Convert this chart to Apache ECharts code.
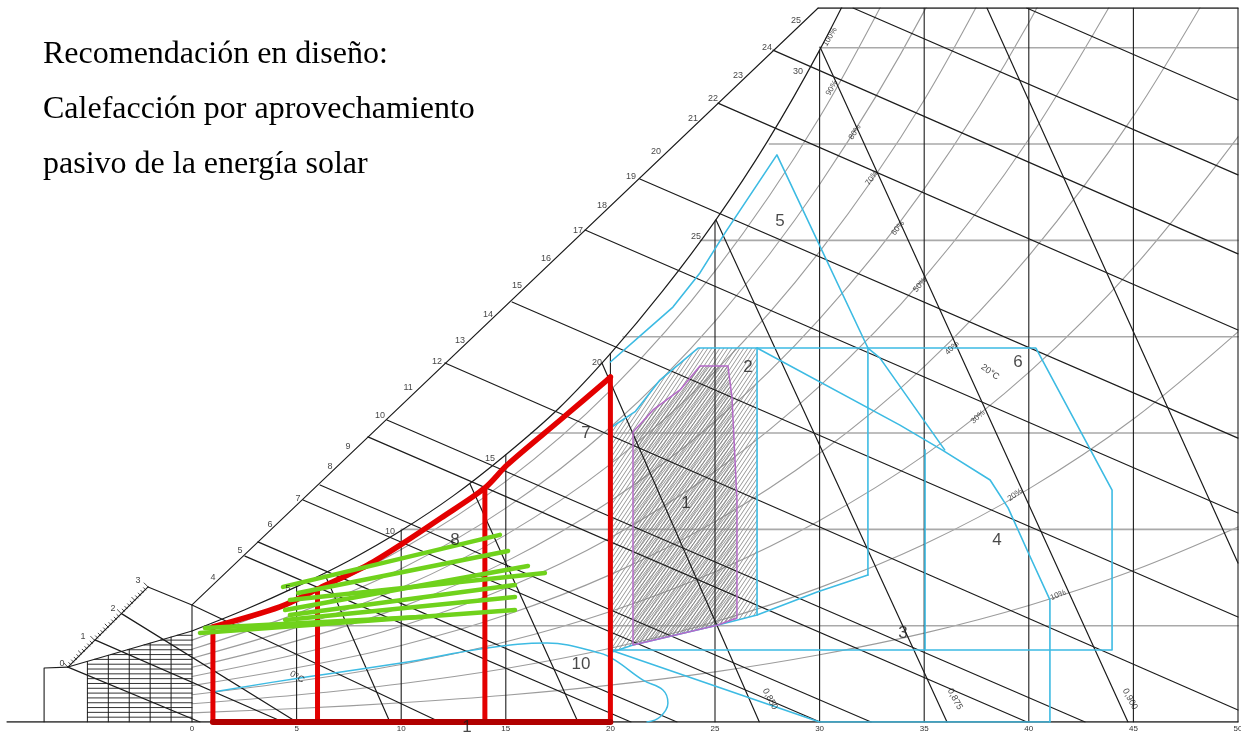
<!DOCTYPE html>
<html>
<head>
<meta charset="utf-8">
<script src="https://cdn.jsdelivr.net/npm/echarts@6/dist/echarts.min.js"></script>
<style>
html,body{margin:0;padding:0;background:#fff}
#chart{width:1241px;height:733px}
</style>
</head>
<body>
<div id="chart"></div>
<script>
// ---- axis ticks (dry-bulb temperature, °C) ----
const tempTicks = [0, 5, 10, 15, 20, 25, 30, 35, 40, 45, 50];

// ---- saturation curve (humidity ratio, g/kg) ----
const satCurve = [[0,3.78],[2.5,4.65],[5,5.62],[7.5,6.7],[10,7.95],[12.5,9.4],[15,11.1],[17.5,13.0],[20,15.3],[22.5,17.9],[25,20.8],[27.5,24.1],[30,27.9],[32.5,32.2]];

// ---- relative humidity curves, values at 0,5,...,50 °C ----
const rhTemps = [0, 5, 10, 15, 20, 25, 30, 35, 40, 45, 50];
const rh90 = [3.40, 5.06, 7.16, 9.99, 13.77, 18.72, 25.11, 33.21];
const rh80 = [3.02, 4.50, 6.36, 8.88, 12.24, 16.64, 22.32, 29.52, 38.72];
const rh70 = [2.65, 3.93, 5.57, 7.77, 10.71, 14.56, 19.53, 25.83, 33.88];
const rh60 = [2.27, 3.37, 4.77, 6.66, 9.18, 12.48, 16.74, 22.14, 29.04, 37.74];
const rh50 = [1.89, 2.81, 3.98, 5.55, 7.65, 10.40, 13.95, 18.45, 24.20, 31.45];
const rh40 = [1.51, 2.25, 3.18, 4.44, 6.12, 8.32, 11.16, 14.76, 19.36, 25.16, 32.40];
const rh30 = [1.13, 1.69, 2.39, 3.33, 4.59, 6.24, 8.37, 11.07, 14.52, 18.87, 24.30];
const rh20 = [0.76, 1.12, 1.59, 2.22, 3.06, 4.16, 5.58, 7.38, 9.68, 12.58, 16.20];
const rh10 = [0.38, 0.56, 0.80, 1.11, 1.53, 2.08, 2.79, 3.69, 4.84, 6.29, 8.10];

// ---- constant humidity-ratio lines (g/kg) and the temperature where each leaves the saturation curve ----
const humidityLevels = [4, 8, 12, 16, 20, 24, 28];
const humidityStarts = [0.6, 10.0, 16.2, 20.6, 24.3, 27.6, 30.0];
const topW = 29.65;

// ---- vertical dry-bulb lines: [T, top] ----
const dryBulbLines = [[5,5.62],[10,7.95],[15,11.1],[20,15.3],[25,20.8],[30,27.9],[35,topW],[40,topW],[45,topW],[50,topW]];

// ---- wet-bulb / enthalpy lines: [T1,w1,T2,w2] ----
const wetBulbLines = [
  [31.6,29.65,50,22.72],[39.9,29.65,50,25.83],[27.77,27.9,50,19.44],[25.14,25.7,50,16.28],
  [21.41,22.55,50,11.79],[18.79,20.43,50,8.68],[15.30,17.44,50,4.36],[12.09,14.91,50,0.50],
  [9.32,12.54,42.69,0],[8.41,11.84,39.91,0],[6.12,9.84,32.46,0],[5.31,9.22,30.02,0],
  [3.15,7.48,23.18,0],[2.53,6.89,20.98,0],[0,4.86,11.85,0],
  [-3.35,4.49,5.0,0],[-4.64,3.41,4.35,0],[-5.93,2.28,0.38,0]
];

// ---- specific volume lines (m³/kg) ----
const volumeLines = [
  [38.0,29.65,50,6.60],[30.02,28.03,44.74,0],[25.05,20.85,36.09,0],
  [19.6,14.9,27.12,0],[13.29,9.88,18.45,0],[6.36,6.1,9.46,0]
];
const volumeLabels = [[27.63,0.95,'0,850'],[36.47,0.95,'0,875'],[44.84,0.95,'0,900']];

// ---- outer wet-bulb scale ----
const smallScale = [[-5.93,2.28],[-2.10,5.61]];
const mainScale = [[0,4.86],[29.93,29.65]];
const scaleLabels = [
  [-6.21,2.41,'0'],[-5.21,3.57,'1'],[-3.78,4.73,'2'],[-2.58,5.86,'3'],
  [1.00,6.02,'4'],[2.29,7.14,'5'],[3.73,8.22,'6'],[5.07,9.30,'7'],[6.60,10.59,'8'],
  [7.46,11.42,'9'],[8.99,12.71,'10'],[10.33,13.87,'11'],[11.71,14.95,'12'],[12.81,15.86,'13'],
  [14.15,16.94,'14'],[15.54,18.11,'15'],[16.92,19.23,'16'],[18.45,20.43,'17'],[19.60,21.43,'18'],
  [20.98,22.67,'19'],[22.18,23.67,'20'],[23.95,25.08,'21'],[24.90,25.91,'22'],[26.10,26.83,'23'],
  [27.49,27.99,'24'],[28.87,29.15,'25']
];
const satLabels = [[4.59,5.56,'5'],[9.46,7.89,'10'],[14.24,10.96,'15'],[19.36,14.91,'20'],[24.09,20.18,'25'],[28.97,27.03,'30']];
const rhLabels = [
  [30.5,28.45,'100%',60],[30.59,26.33,'90%',60],[31.69,24.5,'80%',58],[32.5,22.59,'70%',55],
  [33.75,20.51,'60%',52],[34.8,18.15,'50%',50],[36.33,15.53,'40%',45],[37.57,12.67,'30%',42],
  [39.34,9.43,'20%',35],[41.4,5.27,'10%',22]
];

// ---- frost region below 0 °C ----
const frostTop = [[-5.93,2.28],[0,3.78]];
const frostColumns = [-5, -4, -3, -2, -1];
const frostRows = [0.2,0.4,0.6,0.8,1.0,1.2,1.4,1.6,1.8,2.0,2.2,2.4,2.6,2.8,3.0,3.2,3.4,3.6];
const leftFrame = [[-7.07,0],[-7.07,2.24],[-5.93,2.28]];

// ---- bioclimatic zones ----
const comfortZone = [[20.12,2.92],[20.12,12.24],[21.2,12.9],[22.37,14.2],[24.19,15.53],[27.01,15.53],[27.01,4.44],[25.1,4.02],[21.08,3.20],[20.12,2.92]];
const comfortCore = [[21.08,3.20],[21.08,12.04],[22.04,12.96],[23.33,13.79],[24.28,14.78],[25.62,14.78],[25.81,13.50],[26.05,9.22],[26.05,4.32],[25.1,4.02],[21.08,3.20]];
const zoneVentilation = [[20.0,14.95],[21.75,16.28],[22.99,17.23],[24.28,18.65],[25.48,20.31],[27.96,23.55],[32.31,15.53]];
const zoneEvaporative = [[20.05,12.24],[21.2,12.9],[22.37,14.2],[24.19,15.53],[40.34,15.53],[43.98,9.63],[43.98,2.99],[20.05,2.99],[20.05,12.24]];
const zonePermissibleLeft = [[27.01,15.53],[27.01,4.44]];
const zonePermissibleRight = [[32.31,15.53],[32.31,6.10]];
const zoneLowHumidity = [[20.12,2.92],[21.08,3.20],[25.1,4.02],[27.01,4.44],[29.88,5.40],[32.31,6.10]];
const zoneMassA = [[27.01,15.53],[33.84,12.33],[35.85,11.30],[38.15,10.05],[39.01,8.89],[39.96,7.06],[41.01,5.07],[41.01,0]];
const zoneMassB = [[32.31,15.53],[32.88,15.12],[35.98,11.30]];
const zoneMassEdge = [[35.04,11.30],[35.04,2.99]];
const zoneDryBottom = [[20.0,2.99],[30.0,0],[41.01,0]];
const zoneHumidify = [[1.0,1.25],[5.16,1.83],[10.0,2.45],[14.1,3.07],[16.97,3.28],[19.5,2.86],[20.22,2.57],[21.56,1.74],[22.51,1.33],[22.75,0.79],[22.37,0.21],[21.75,0]];

// passive solar heating zone (red)
const solarCurve = [[1.0,3.95],[4.2,4.78],[6.1,5.56],[8.4,6.52],[10.1,7.43],[11.9,8.47],[14.0,9.72],[15.06,10.67],[17.6,12.54],[19.84,14.2],[20.0,14.33]];
const solarColumns = [[1.0,3.95],[6.0,5.53],[14.0,9.72],[20.0,14.33]];
const solarBase = [[1.0,0],[20.0,0]];

// monthly climate lines (green)
const monthLines = [
  [4.35,5.61,14.72,7.77],[5.07,5.36,15.11,7.10],[4.68,5.07,16.87,6.19],[4.45,4.65,16.06,6.48],
  [4.68,4.44,15.44,5.69],[4.45,4.24,15.44,5.19],[0.38,3.70,15.44,4.65],[0.62,3.90,10.9,4.36]
];

const zoneLabels = [
  [23.61,9.09,'1'],[26.58,14.74,'2'],[33.99,3.70,'3'],[38.48,7.56,'4'],[28.11,20.81,'5'],
  [39.48,14.95,'6'],[18.83,12.0,'7'],[12.57,7.56,'8'],[18.59,2.41,'10'],[13.15,-0.22,'1']
];

// ---------- drawing helpers ----------
const BLACK = '#1c1c1c', GRAY = '#9c9c9c', BLUE = '#3dbbe3', RED = '#e30000', PURPLE = '#b46ac8', GREEN = '#70d21c';

function path(pts, color, width, z, smooth) {
  return {
    type: 'line', data: pts, symbol: 'none', showSymbol: false, silent: true,
    animation: false, z: z || 2, smooth: smooth || false, clip: true,
    lineStyle: { color: color, width: width, cap: 'round', join: 'round' }
  };
}

// diagonal hatch tile; lines run corner to corner so neighbouring tiles join up
function hatchPattern(color, w, h, lw) {
  const c = document.createElement('canvas');
  c.width = w; c.height = h;
  const g = c.getContext('2d');
  g.strokeStyle = color; g.lineWidth = lw;
  g.beginPath();
  g.moveTo(0, h); g.lineTo(w, 0);
  g.moveTo(-w, h); g.lineTo(w, -h);
  g.moveTo(0, 2 * h); g.lineTo(2 * w, 0);
  g.stroke();
  return { image: c, repeat: 'repeat' };
}

function area(pts, fill, z) {
  return {
    type: 'custom', silent: true, animation: false, z: z, data: [[0, 0]],
    renderItem: function (p, api) {
      return { type: 'polygon', shape: { points: pts.map(q => api.coord(q)) }, style: { fill: fill } };
    }
  };
}

function texts(items, style, rot) {
  return {
    type: 'scatter', silent: true, animation: false, clip: false, z: 20, symbolSize: 0,
    data: items.map(it => ({
      value: [it[0], it[1]],
      label: { show: true, position: 'inside', formatter: it[2], rotate: it[3] !== undefined ? it[3] : (rot || 0) }
    })),
    label: Object.assign({ color: '#111', fontFamily: 'Liberation Sans', fontSize: 8 }, style)
  };
}

const series = [];

// relative humidity curves
[rh90, rh80, rh70, rh60, rh50, rh40, rh30, rh20, rh10].forEach(vals => {
  series.push(path(vals.map((v, i) => [rhTemps[i], v]), GRAY, 1.1, 1, 0.35));
});
// constant humidity-ratio lines
humidityLevels.forEach((w, i) => series.push(path([[humidityStarts[i], w], [50, w]], '#a9a9a9', 1.6, 1)));

// hatched comfort zone
series.push(area(comfortZone, hatchPattern('#8c8c8c', 4, 6, 0.9), 2));
series.push(area(comfortCore, hatchPattern('#7c7c7c', 3, 4.5, 0.8), 2));

// chart frame, scales and psychrometric lines
series.push(path(satCurve, BLACK, 1.2, 3, 0.3));
series.push(path([[-8.84, 0], [50, 0]], BLACK, 1.3, 3));
series.push(path([[29.93, topW], [50, topW]], BLACK, 1.3, 3));
series.push(path(leftFrame, BLACK, 1.1, 3));
series.push(path(smallScale, BLACK, 1.1, 3));
series.push(path([smallScale[1], mainScale[0], [0, 0]], BLACK, 1.1, 3));
series.push(path(mainScale, BLACK, 1.1, 3));
series.push(path(frostTop, BLACK, 1.1, 3));
dryBulbLines.forEach(d => series.push(path([[d[0], 0], [d[0], d[1]]], BLACK, 1.1, 3)));
wetBulbLines.forEach(l => series.push(path([[l[0], l[1]], [l[2], l[3]]], BLACK, 1.2, 3)));
volumeLines.forEach(l => series.push(path([[l[0], l[1]], [l[2], l[3]]], BLACK, 1.2, 3)));

// frost region grid
const frostSlope = (frostTop[1][1] - frostTop[0][1]) / (frostTop[1][0] - frostTop[0][0]);
frostColumns.forEach(t => series.push(path([[t, 0], [t, frostTop[0][1] + (t - frostTop[0][0]) * frostSlope]], BLACK, 1, 3)));
frostRows.forEach(w => {
  const t0 = Math.max(-5, frostTop[0][0] + (w - frostTop[0][1]) / frostSlope);
  series.push(path([[t0, w], [0, w]], BLACK, 0.9, 3));
});

// minor ticks of the small scale
series.push({
  type: 'custom', silent: true, animation: false, z: 3, data: [[0, 0]],
  renderItem: function (p, api) {
    const a = api.coord(smallScale[0]), b = api.coord(smallScale[1]);
    const dx = b[0] - a[0], dy = b[1] - a[1], L = Math.hypot(dx, dy);
    const nx = dy / L, ny = -dx / L;
    const kids = [];
    for (let i = 0; i <= 30; i++) {
      const t = i / 30, x = a[0] + dx * t, y = a[1] + dy * t;
      const len = i % 10 === 0 ? 6 : (i % 5 === 0 ? 4.5 : 3);
      kids.push({ type: 'line', shape: { x1: x - nx, y1: y - ny, x2: x + nx * len, y2: y + ny * len }, style: { stroke: BLACK, lineWidth: 0.8 } });
    }
    return { type: 'group', children: kids };
  }
});

// blue zone outlines
[zoneVentilation, zoneEvaporative, zonePermissibleLeft, zonePermissibleRight, zoneLowHumidity,
 zoneMassA, zoneMassB, zoneMassEdge, zoneDryBottom].forEach(z => series.push(path(z, BLUE, 1.6, 5)));
series.push(path(zoneHumidify, BLUE, 1.5, 5, 0.4));
series.push(path(comfortCore, PURPLE, 1.5, 5));

// passive solar heating zone
series.push(path(solarCurve, RED, 5.5, 7, 0.3));
solarColumns.forEach(c => series.push(path([[c[0], 0], c], RED, 5, 7)));
series.push(path(solarBase, '#b00000', 6, 8));

// monthly climate lines
monthLines.forEach(l => series.push(path([[l[0], l[1]], [l[2], l[3]]], GREEN, 4.5, 9)));

// text
series.push(texts(scaleLabels, { fontSize: 9 }));
series.push(texts(satLabels, { fontSize: 9 }));
series.push(texts(volumeLabels, { fontSize: 9 }, -62));
series.push(texts(rhLabels, { fontSize: 8 }));
series.push(texts([[38.15, 14.53, '20°C', -35], [5.02, 1.87, '0°C', -30]], { fontSize: 9 }));
series.push(texts(zoneLabels, { fontSize: 17, color: '#1a1a1a' }));

const chart = echarts.init(document.getElementById('chart'), null, { renderer: 'canvas' });
chart.setOption({
  backgroundColor: '#ffffff',
  animation: false,
  title: {
    text: 'Recomendación en diseño:\nCalefacción por aprovechamiento\npasivo de la energía solar',
    left: 43, top: 27, padding: 0,
    textStyle: { fontFamily: 'Liberation Serif', fontSize: 32, fontWeight: 'normal', color: '#000', lineHeight: 55 }
  },
  grid: { left: 192 - 9 * 20.92, right: 3, top: 8, bottom: 11, containLabel: false, outerBoundsMode: 'none' },
  xAxis: {
    type: 'value', min: -9, max: 50,
    axisLine: { show: false }, axisTick: { show: false }, splitLine: { show: false },
    axisLabel: { customValues: tempTicks, fontSize: 8, color: '#333', margin: 3, fontFamily: 'Liberation Sans' }
  },
  yAxis: { type: 'value', min: 0, max: topW, show: false },
  series: series
});
</script>
</body>
</html>
